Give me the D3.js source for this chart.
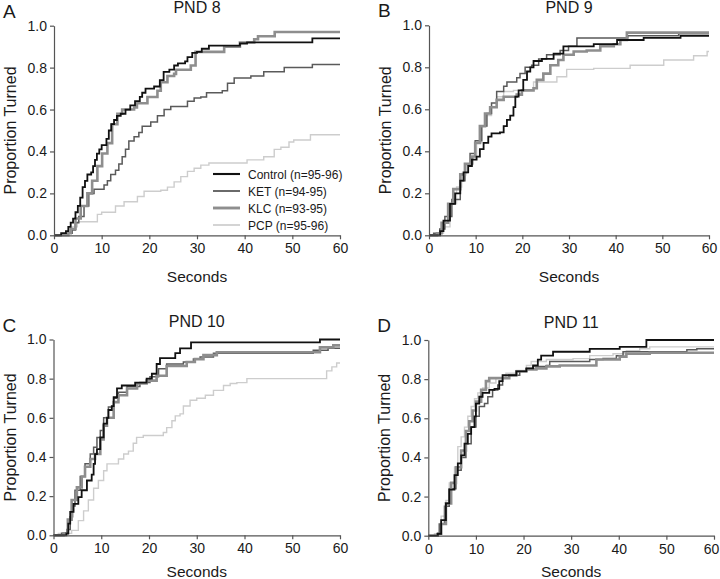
<!DOCTYPE html>
<html><head><meta charset="utf-8">
<script src="https://cdn.jsdelivr.net/npm/d3@7"></script>
<style>
html,body{margin:0;padding:0;background:#fff;}
svg{display:block;font-family:Arial,"Liberation Sans",sans-serif;}
</style></head>
<body><svg id="chart" width="720" height="579"></svg>
<script>
// ---------- data ----------
const panelLetters = ["A", "B", "C", "D"];
const panelTitles = ["PND 8", "PND 9", "PND 10", "PND 11"];
const groupNames = ["Control (n=95-96)", "KET (n=94-95)", "KLC (n=93-95)", "PCP (n=95-96)"];
const xTickValues = [0, 10, 20, 30, 40, 50, 60];
const yTickValues = [0, 0.2, 0.4, 0.6, 0.8, 1.0];
const xLabel = "Seconds";
const yLabel = "Proportion Turned";

// step points [seconds, cumulative proportion turned]
const pnd8Control = [[0,0],[1.5,0.01],[2.5,0.02],[3,0.04],[3.5,0.06],[4,0.08],[4.5,0.11],[5,0.14],[5.5,0.18],[6,0.23],[6.5,0.26],[7,0.29],[7.8,0.30],[8.2,0.33],[8.6,0.36],[9,0.39],[9.5,0.41],[10,0.43],[11,0.46],[11.5,0.50],[12,0.53],[12.6,0.55],[13.2,0.57],[14,0.58],[15,0.60],[16,0.62],[17,0.64],[18,0.66],[18.5,0.68],[19.2,0.70],[21,0.71],[22.2,0.74],[23,0.78],[24.2,0.79],[25.2,0.81],[26,0.82],[27.5,0.83],[28,0.85],[29,0.87],[30,0.875],[31,0.89],[32.5,0.905],[39,0.915],[40.5,0.92],[54.2,0.94]];
const pnd8KET = [[0,0],[2.5,0.01],[3.8,0.025],[4.5,0.06],[5.2,0.09],[6.3,0.14],[7.3,0.20],[8.4,0.22],[10.5,0.24],[11.2,0.26],[11.9,0.29],[12.9,0.31],[13.6,0.34],[14.3,0.375],[15,0.41],[15.7,0.45],[16.8,0.47],[17.8,0.49],[18.5,0.52],[20.3,0.54],[21.7,0.57],[23.1,0.60],[24.5,0.615],[28,0.64],[29.4,0.655],[30.8,0.66],[32,0.68],[35.3,0.69],[36.4,0.725],[37.8,0.75],[41.3,0.76],[44,0.78],[48.3,0.80],[54.2,0.815]];
const pnd8KLC = [[0,0],[3,0.01],[3.5,0.03],[4.5,0.08],[5.6,0.14],[7,0.20],[8,0.26],[9.1,0.33],[10.1,0.39],[11.2,0.44],[12.2,0.53],[13.3,0.58],[14.3,0.60],[16.8,0.61],[17.4,0.63],[19.6,0.66],[21.7,0.69],[22.4,0.73],[23.8,0.76],[25.2,0.77],[25.6,0.79],[28.7,0.81],[29.7,0.875],[35.7,0.90],[39,0.92],[42,0.935],[42.8,0.95],[46.3,0.97]];
const pnd8PCP = [[0,0],[2.8,0.01],[3.8,0.04],[4.9,0.065],[9.1,0.10],[10,0.11],[12.9,0.14],[14.7,0.16],[17.5,0.185],[18.9,0.21],[22.4,0.215],[23.8,0.23],[25.2,0.255],[26.6,0.28],[28,0.305],[29.4,0.32],[30.8,0.335],[32.5,0.345],[40.5,0.36],[44,0.375],[46.2,0.41],[47.6,0.42],[49.3,0.445],[50.3,0.455],[53.8,0.48]];

const pnd9Control = [[0,0],[2.4,0.02],[3.1,0.07],[4.5,0.15],[5.6,0.20],[6.7,0.26],[7.4,0.30],[8.4,0.33],[9.2,0.36],[10.2,0.375],[10.9,0.41],[11.7,0.44],[12.7,0.47],[13.4,0.485],[15.2,0.49],[16,0.52],[16.7,0.55],[17.4,0.57],[18.1,0.61],[18.5,0.66],[19.2,0.69],[20.2,0.74],[21,0.78],[21.7,0.80],[22.4,0.83],[24.2,0.84],[26.7,0.865],[28.8,0.90],[35.3,0.91],[40.3,0.93],[46,0.94],[53.9,0.95]];
const pnd9KET = [[0,0],[1,0.01],[2.3,0.03],[3.4,0.09],[4.9,0.17],[6.7,0.26],[7.7,0.34],[8.8,0.39],[9.9,0.45],[11.3,0.52],[12.4,0.58],[13.4,0.63],[14.5,0.685],[16,0.71],[16.7,0.73],[18.8,0.75],[19.5,0.77],[20.6,0.80],[22,0.81],[23.5,0.84],[25.2,0.86],[28.1,0.88],[29.9,0.90],[31.7,0.94],[42.6,0.95],[53.5,0.96]];
const pnd9KLC = [[0,0],[1.7,0.01],[2.7,0.06],[4.1,0.15],[5.2,0.22],[6.7,0.29],[7.7,0.34],[9.2,0.375],[9.9,0.44],[10.9,0.52],[12,0.58],[13.1,0.61],[14.5,0.645],[16,0.66],[18.8,0.67],[19.9,0.69],[22.4,0.70],[23.1,0.74],[24.5,0.77],[26,0.81],[27.7,0.835],[28.8,0.86],[31,0.875],[33.8,0.88],[36.7,0.90],[39.6,0.91],[41,0.93],[42.4,0.965]];
const pnd9PCP = [[0,0],[2,0.01],[3.1,0.04],[4.5,0.15],[5.9,0.23],[7,0.295],[8.1,0.34],[9.5,0.375],[10.2,0.44],[11.3,0.52],[12.4,0.57],[13.4,0.61],[14.5,0.66],[16,0.685],[18.1,0.69],[22.4,0.73],[27.4,0.755],[29.5,0.79],[35.3,0.795],[43.1,0.81],[50.3,0.835],[56.7,0.855],[59.6,0.875]];

const pnd10Control = [[0,0],[2.7,0.01],[3.1,0.06],[3.5,0.12],[4.2,0.16],[5.2,0.195],[5.9,0.23],[7,0.28],[8,0.31],[8.4,0.365],[8.7,0.415],[9.1,0.44],[9.8,0.50],[10.5,0.57],[11.2,0.60],[11.5,0.64],[12.2,0.66],[12.6,0.705],[13.3,0.75],[14.3,0.765],[17.1,0.78],[19.5,0.80],[20.6,0.825],[21.6,0.875],[22.3,0.905],[25.5,0.93],[26.5,0.955],[28.8,0.985],[55.8,1.0]];
const pnd10KET = [[0,0],[1.7,0.01],[2.8,0.03],[3.5,0.095],[4,0.15],[4.5,0.23],[5.6,0.30],[6.6,0.365],[7.7,0.415],[8.4,0.45],[9.1,0.50],[9.8,0.535],[10.5,0.60],[11.5,0.655],[12.6,0.70],[13.6,0.73],[15.4,0.76],[18.1,0.78],[20.2,0.81],[22,0.85],[23.7,0.875],[27.2,0.885],[29.3,0.90],[30.7,0.91],[33.5,0.93],[54.4,0.945],[57.5,0.955]];
const pnd10KLC = [[0,0],[2.1,0.01],[3,0.08],[3.8,0.18],[4.9,0.245],[5.9,0.30],[6.6,0.35],[7.7,0.39],[8.7,0.415],[9.8,0.49],[10.5,0.56],[11.2,0.60],[12.6,0.68],[13.6,0.715],[15.4,0.75],[17.5,0.775],[19.5,0.79],[21.6,0.815],[23.7,0.865],[27.9,0.885],[29.6,0.90],[31.4,0.92],[34.2,0.935],[55.8,0.96],[58.6,0.97]];
const pnd10PCP = [[0,0],[1,0.01],[3.8,0.025],[5.2,0.075],[6.3,0.125],[7.3,0.18],[8.4,0.24],[9.4,0.28],[10.5,0.33],[11.2,0.365],[13.6,0.39],[14.7,0.415],[15.7,0.43],[16.7,0.47],[17.4,0.50],[18.8,0.51],[23,0.525],[23.7,0.55],[24.8,0.585],[25.5,0.61],[26.5,0.62],[27.2,0.66],[28.6,0.69],[30,0.70],[31.8,0.715],[33.5,0.74],[35.6,0.765],[37,0.775],[38.4,0.78],[40.5,0.80],[57.2,0.84],[58.3,0.86],[59.3,0.88]];

const pnd11Control = [[0,0],[2,0.01],[2.7,0.08],[3.7,0.165],[4.4,0.235],[5.5,0.31],[6.2,0.37],[6.9,0.41],[7.6,0.47],[8.3,0.52],[9,0.555],[9.7,0.61],[10,0.675],[10.7,0.71],[11.4,0.73],[12.8,0.745],[13.9,0.75],[14.9,0.79],[15.6,0.82],[18.5,0.84],[20.6,0.855],[22,0.87],[23,0.90],[23.7,0.92],[26.2,0.94],[33.9,0.955],[40.2,0.965],[45.8,1.0]];
const pnd11KET = [[0,0],[1.8,0.01],[2.3,0.06],[3.4,0.15],[4.4,0.24],[5.8,0.335],[6.9,0.40],[7.9,0.47],[9,0.555],[10,0.61],[10.7,0.66],[11.8,0.675],[12.5,0.71],[13.5,0.745],[14.6,0.77],[15.6,0.805],[17,0.82],[19.2,0.84],[20.6,0.855],[22,0.865],[24.8,0.87],[25.5,0.89],[33.9,0.90],[36.7,0.905],[39.5,0.92],[40.9,0.94],[54.3,0.95],[56.4,0.955]];
const pnd11KLC = [[0,0],[2,0.01],[2.7,0.06],[3.7,0.165],[4.8,0.27],[5.8,0.35],[6.9,0.435],[7.9,0.535],[8.6,0.585],[9.3,0.64],[10,0.685],[11.1,0.745],[12.1,0.79],[12.8,0.805],[17,0.82],[18.5,0.84],[20.6,0.85],[22.7,0.855],[24.8,0.865],[27.6,0.87],[35.3,0.90],[40.2,0.915],[41.6,0.93],[46.5,0.935]];
const pnd11PCP = [[0,0],[1.3,0.01],[2.7,0.10],[3.7,0.18],[4.4,0.27],[5.5,0.35],[6.2,0.455],[6.9,0.505],[7.6,0.555],[8.3,0.61],[9,0.66],[9.7,0.70],[10.4,0.73],[11.4,0.755],[12.8,0.78],[14.2,0.805],[16.3,0.83],[18.5,0.845],[20.6,0.87],[21.6,0.89],[24.8,0.90],[30.4,0.905],[33.9,0.92],[38.8,0.93],[41.6,0.945],[44.4,0.955],[46.5,0.965]];

const panelSeries = [
  [pnd8Control, pnd8KET, pnd8KLC, pnd8PCP],
  [pnd9Control, pnd9KET, pnd9KLC, pnd9PCP],
  [pnd10Control, pnd10KET, pnd10KLC, pnd10PCP],
  [pnd11Control, pnd11KET, pnd11KLC, pnd11PCP]
];

// ---------- styling / layout ----------
const seriesColor = ["#111111", "#5a5a5a", "#8e8e8e", "#cdcdcd"];
const seriesWidth = [1.8, 1.5, 2.6, 1.4];
const drawOrder = [3, 1, 2, 0];
const boxes = [
  {l: 54, r: 340, t: 25.7, b: 235.3, xl: 281.5},
  {l: 429, r: 709, t: 25.3, b: 235.3, xl: 281.5},
  {l: 53.5, r: 340, t: 339.5, b: 535.3, xl: 576.5},
  {l: 428.3, r: 714, t: 340, b: 535.7, xl: 576.5}
];

const svg = d3.select("#chart");
const axisColor = "#555";
const textColor = "#1a1a1a";
const W = 720;

panelTitles.forEach((title, i) => {
  const bx = boxes[i];
  const x = d3.scaleLinear().domain([0, 60]).range([bx.l, bx.r]);
  const y = d3.scaleLinear().domain([0, 1]).range([bx.b, bx.t]);
  const g = svg.append("g");

  // curves
  const line = d3.line().x(d => x(d[0])).y(d => y(d[1])).curve(d3.curveStepAfter);
  drawOrder.forEach(k => {
    const pts = panelSeries[i][k];
    const full = pts.concat([[60, pts[pts.length - 1][1]]]);
    g.append("path").datum(full)
      .attr("fill", "none")
      .attr("stroke", seriesColor[k])
      .attr("stroke-width", seriesWidth[k])
      .attr("d", line);
  });

  // axes
  const xAxis = g.append("g").attr("transform", `translate(0,${bx.b})`)
    .call(d3.axisBottom(x).tickValues(xTickValues).tickFormat(d3.format("d")).tickSizeInner(4).tickSizeOuter(0).tickPadding(4));
  const yAxis = g.append("g").attr("transform", `translate(${bx.l},0)`)
    .call(d3.axisLeft(y).tickValues(yTickValues).tickFormat(d3.format(".1f")).tickSizeInner(4).tickSizeOuter(0).tickPadding(3));
  [xAxis, yAxis].forEach(a => {
    a.select(".domain").attr("stroke", axisColor).attr("stroke-width", 1.2);
    a.selectAll(".tick line").attr("stroke", axisColor).attr("stroke-width", 1.2);
    a.selectAll(".tick text").attr("fill", textColor).style("font-size", "14px")
      .style("font-family", "Arial, 'Liberation Sans', sans-serif");
  });
  // keep the last x tick label inside the page
  xAxis.selectAll(".tick text").each(function(d) {
    const bb = this.getBBox();
    const right = x(d) + bb.width / 2;
    if (right > W - 1) d3.select(this).attr("dx", (W - 1 - right) + "px");
  });

  const cx = (bx.l + bx.r) / 2;
  // title
  g.append("text").attr("x", cx).attr("y", bx.t - 12.5).attr("text-anchor", "middle")
    .style("font-size", "16px").attr("fill", textColor).text(title);
  // panel letter
  g.append("text").attr("x", bx.l - 51).attr("y", bx.t - 8).attr("text-anchor", "start")
    .style("font-size", "19px").attr("fill", textColor).text(panelLetters[i]);
  // x label
  g.append("text").attr("x", cx).attr("y", bx.xl).attr("text-anchor", "middle")
    .style("font-size", "15.5px").attr("fill", textColor).text(xLabel);
  // y label
  g.append("text").attr("transform", `translate(${bx.l - 38},${(bx.t + bx.b) / 2}) rotate(-90)`)
    .attr("text-anchor", "middle").style("font-size", "16px").attr("fill", textColor).text(yLabel);
});

// legend (panel A)
const leg = svg.append("g").attr("transform", "translate(213,174)");
groupNames.forEach((name, k) => {
  const yy = k * 17;
  leg.append("line").attr("x1", 0).attr("x2", 27).attr("y1", yy).attr("y2", yy)
    .attr("stroke", seriesColor[k]).attr("stroke-width", seriesWidth[k] + 0.3);
  leg.append("text").attr("x", 35).attr("y", yy + 4.5).style("font-size", "12px")
    .attr("fill", textColor).text(name);
});
</script></body></html>
